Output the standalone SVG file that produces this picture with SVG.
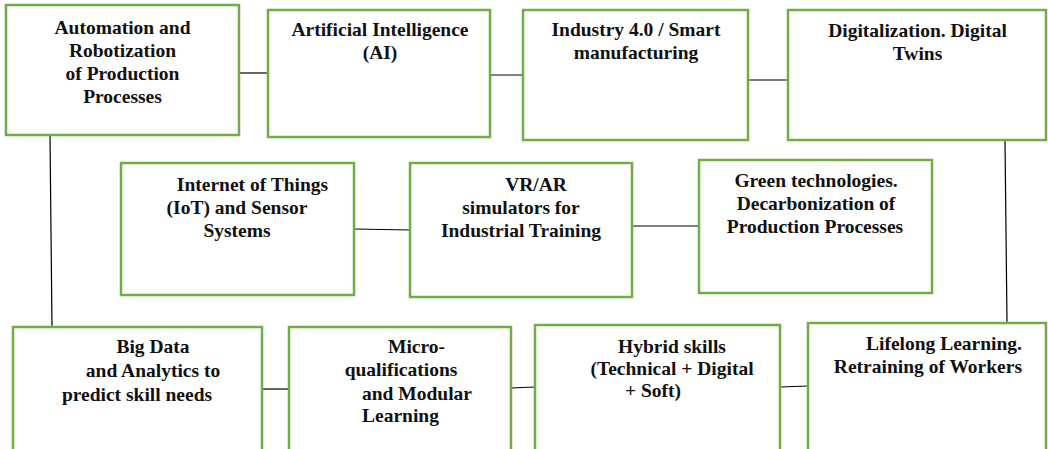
<svg xmlns="http://www.w3.org/2000/svg" width="1048" height="449" viewBox="0 0 1048 449">
<style>
.box{fill:#fff;stroke:#70AD47;stroke-width:2.5}
.t{font-family:"Liberation Serif","Times New Roman",serif;font-weight:bold;font-size:19.5px;fill:#111}
.m{text-anchor:middle}
.e{text-anchor:end}
.c{stroke:#000;stroke-width:1.2;fill:none}
</style>
<rect width="1048" height="449" fill="#fff"/>
<g id="connectors">
<line class="c" x1="239" y1="73" x2="268" y2="73"/>
<line class="c" x1="490" y1="75" x2="523" y2="75"/>
<line class="c" x1="748" y1="80" x2="788" y2="80"/>
<line class="c" x1="50" y1="135" x2="52" y2="327"/>
<line class="c" x1="1005" y1="140" x2="1007" y2="323"/>
<line class="c" x1="354" y1="229" x2="410" y2="230"/>
<line class="c" x1="632" y1="226" x2="699" y2="226"/>
<line class="c" x1="262" y1="389" x2="289" y2="389"/>
<line class="c" x1="511" y1="388" x2="535" y2="387"/>
<line class="c" x1="780" y1="387" x2="808" y2="386"/>
</g>
<g id="n1"><rect class="box" x="6" y="5" width="233" height="130"/>
<text class="t m" x="122.5" y="34">Automation and</text>
<text class="t m" x="122.5" y="57">Robotization</text>
<text class="t m" x="122.5" y="80">of Production</text>
<text class="t m" x="122.5" y="103">Processes</text></g>
<g id="n2"><rect class="box" x="268" y="10" width="222" height="127"/>
<text class="t m" x="380" y="36">Artificial Intelligence</text>
<text class="t m" x="380" y="59">(AI)</text></g>
<g id="n3"><rect class="box" x="523" y="10" width="225" height="130"/>
<text class="t m" x="636" y="36">Industry 4.0 / Smart</text>
<text class="t m" x="636" y="59">manufacturing</text></g>
<g id="n4"><rect class="box" x="788" y="10" width="258" height="130"/>
<text class="t m" x="917.5" y="37">Digitalization. Digital</text>
<text class="t m" x="917.5" y="60">Twins</text></g>
<g id="n5"><rect class="box" x="121" y="163" width="233" height="132"/>
<text class="t m" x="252.5" y="191">Internet of Things</text>
<text class="t m" x="237" y="214">(IoT) and Sensor</text>
<text class="t m" x="237" y="237">Systems</text></g>
<g id="n6"><rect class="box" x="410" y="163" width="222" height="134"/>
<text class="t m" x="536" y="191">VR/AR</text>
<text class="t m" x="521" y="214">simulators for</text>
<text class="t m" x="521" y="237">Industrial Training</text></g>
<g id="n7"><rect class="box" x="699" y="160" width="233" height="133"/>
<text class="t m" x="816" y="187">Green technologies.</text>
<text class="t m" x="816" y="210">Decarbonization of</text>
<text class="t m" x="815" y="233">Production Processes</text></g>
<g id="n8"><rect class="box" x="13" y="327" width="249" height="140"/>
<text class="t m" x="153" y="353">Big Data</text>
<text class="t m" x="153" y="377">and Analytics to</text>
<text class="t m" x="137" y="401">predict skill needs</text></g>
<g id="n9"><rect class="box" x="289" y="327" width="222" height="140"/>
<text class="t m" x="416.5" y="353">Micro-</text>
<text class="t m" x="401" y="376">qualifications</text>
<text class="t m" x="417" y="400">and Modular</text>
<text class="t" x="362" y="422">Learning</text></g>
<g id="n10"><rect class="box" x="535" y="325" width="245" height="140"/>
<text class="t m" x="672" y="353">Hybrid skills</text>
<text class="t m" x="672" y="375">(Technical + Digital</text>
<text class="t m" x="653" y="397">+ Soft)</text></g>
<g id="n11"><rect class="box" x="808" y="323" width="238" height="140"/>
<text class="t e" x="1022" y="350">Lifelong Learning.</text>
<text class="t e" x="1022" y="373">Retraining of Workers</text></g>
</svg>
